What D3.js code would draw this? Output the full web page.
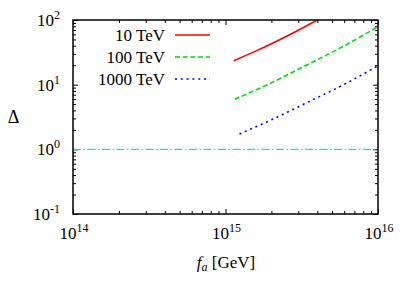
<!DOCTYPE html>
<html><head><meta charset="utf-8">
<script src="https://cdn.jsdelivr.net/npm/d3@7"></script>
<style>body{margin:0;background:#fff}svg{display:block}text{font-family:"Liberation Serif","Times New Roman",serif;fill:#000}</style>
</head><body><svg id="c" width="409" height="286"></svg>
<script>
const seriesNames = ["10 TeV", "100 TeV", "1000 TeV"];
const seriesColors = ["#ff0000", "#00dd00", "#0000ff"];
const faRed = [1.134e15, 1.6e15, 2.13e15, 3.0e15, 4.0e15];
const deltaRed = [23.5, 33.6, 46.2, 69.6, 100];
const faGreen = [1.15e15, 2e15, 3.52e15, 6e15, 1e16];
const deltaGreen = [5.94, 10.7, 20.9, 39.8, 78.8];
const faBlue = [1.236e15, 2e15, 3.52e15, 6e15, 1e16];
const deltaBlue = [1.73, 2.86, 5.46, 10.1, 19.6];
const refLine = [[1e14, 1], [1e16, 1]];
const xTickExps = [14, 15, 16];
const yTickExps = [-1, 0, 1, 2];

const svg = d3.select("#c");
const L = 73, R = 378, T = 20, B = 214;
const x = d3.scaleLog().domain([1e14, 1e16]).range([L, R]);
const y = d3.scaleLog().domain([0.1, 100]).range([B, T]);

function minors(lo, hi) { const out = []; for (let e = lo; e < hi; e++) for (let k = 2; k <= 9; k++) out.push(k * Math.pow(10, e)); return out; }
const xMin = minors(14, 16), yMin = minors(-1, 2);
const xMaj = xTickExps.map(e => Math.pow(10, e)), yMaj = yTickExps.map(e => Math.pow(10, e));

function drawAxis(axisFn, scale, vals, size, tr) {
  const g = svg.append("g").attr("transform", tr).call(axisFn(scale).tickValues(vals).tickSize(size).tickFormat(""));
  g.select(".domain").remove();
  g.selectAll("line").attr("stroke", "#000").attr("stroke-width", 1);
}
drawAxis(d3.axisBottom, x, xMin, -3, `translate(0,${B})`);
drawAxis(d3.axisBottom, x, xMaj, -5, `translate(0,${B})`);
drawAxis(d3.axisTop, x, xMin, -3, `translate(0,${T})`);
drawAxis(d3.axisTop, x, xMaj, -5, `translate(0,${T})`);
drawAxis(d3.axisLeft, y, yMin, -3, `translate(${L},0)`);
drawAxis(d3.axisLeft, y, yMaj, -5, `translate(${L},0)`);
drawAxis(d3.axisRight, y, yMin, -3, `translate(${R},0)`);
drawAxis(d3.axisRight, y, yMaj, -5, `translate(${R},0)`);

const line = d3.line().x(d => x(d[0])).y(d => y(d[1]));
svg.append("path").datum(refLine).attr("d", line).attr("fill", "none")
  .attr("stroke", "#00e8e8").attr("stroke-width", 1.4).attr("stroke-dasharray", "8,2.5,1.5,2.5");

const curveLine = d3.line().x(d => x(d[0])).y(d => y(d[1])).curve(d3.curveMonotoneX);
const series = [[faRed, deltaRed], [faGreen, deltaGreen], [faBlue, deltaBlue]];
const dashes = [null, "5,2.7", "2,3.8"];
svg.append("clipPath").attr("id", "pc").append("rect").attr("x", L).attr("y", T).attr("width", R - L).attr("height", B - T);
series.forEach((s, i) => {
  const pts = s[0].map((f, j) => [f, s[1][j]]);
  const p = svg.append("path").datum(pts).attr("d", curveLine).attr("fill", "none")
    .attr("stroke", seriesColors[i]).attr("stroke-width", 1.6).attr("clip-path", "url(#pc)");
  if (dashes[i]) p.attr("stroke-dasharray", dashes[i]);
});

svg.append("rect").attr("x", L).attr("y", T).attr("width", R - L).attr("height", B - T)
  .attr("fill", "none").attr("stroke", "#000").attr("stroke-width", 1.5);

xTickExps.forEach(e => {
  const t = svg.append("text").attr("x", x(Math.pow(10, e)) + 1).attr("y", 239).attr("text-anchor", "middle").attr("font-size", 17);
  t.append("tspan").text("10");
  t.append("tspan").attr("dy", -7).attr("font-size", 12).text(String(e));
});
yTickExps.forEach(e => {
  const t = svg.append("text").attr("x", 60).attr("y", y(Math.pow(10, e)) + 6).attr("text-anchor", "end").attr("font-size", 17);
  t.append("tspan").text("10");
  t.append("tspan").attr("dy", -7).attr("font-size", 12).text(String(e));
});

svg.append("text").attr("x", 13.5).attr("y", 123).attr("text-anchor", "middle").attr("font-size", 18).text("Δ");
const xl = svg.append("text").attr("x", 226).attr("y", 268).attr("text-anchor", "middle").attr("font-size", 17);
xl.append("tspan").attr("font-style", "italic").text("f");
xl.append("tspan").attr("font-style", "italic").attr("font-size", 12).attr("dy", 3).text("a");
xl.append("tspan").attr("dy", -3).text(" [GeV]");

const legY = [35, 57, 79];
seriesNames.forEach((n, i) => {
  svg.append("text").attr("x", 165).attr("y", legY[i] + 6).attr("text-anchor", "end").attr("font-size", 17).text(n);
  const l = svg.append("line").attr("x1", 175).attr("x2", 210).attr("y1", legY[i]).attr("y2", legY[i])
    .attr("stroke", seriesColors[i]).attr("stroke-width", 1.6);
  if (dashes[i]) l.attr("stroke-dasharray", dashes[i]);
});
</script></body></html>
